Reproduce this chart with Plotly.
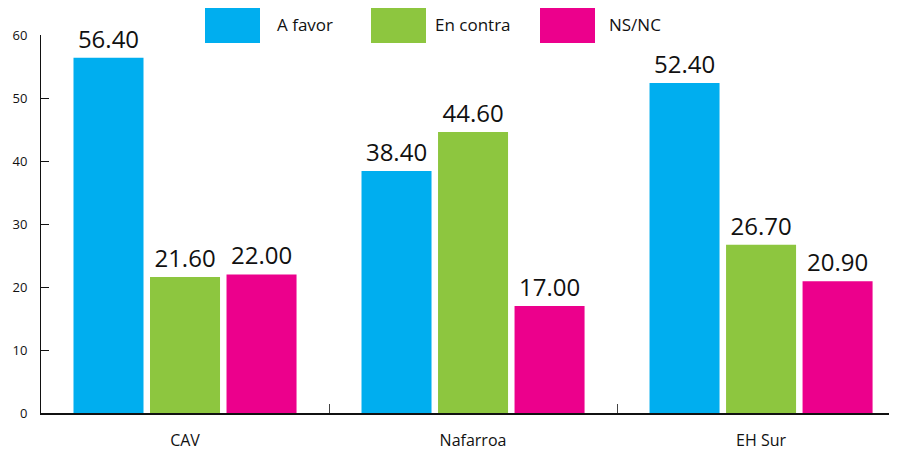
import plotly.graph_objects as go

regions = ['CAV', 'Nafarroa', 'EH Sur']
a_favor = [56.40, 38.40, 52.40]
en_contra = [21.60, 44.60, 26.70]
ns_nc = [22.00, 17.00, 20.90]

series = ['A favor', 'En contra', 'NS/NC']
colors = ['#00AEEF', '#8DC63F', '#EC008C']

FONT = 'Open Sans'

# the page body adds an 8px margin, so the figure is a bit smaller than the window
OFF = 8
W, H = 897 - OFF, 450 - OFF
L, R, T, B = 41 - OFF, 0, 35 - OFF, 37
pw, ph = W - L - R, H - T - B


# page pixel -> paper coords (used for the hand made legend)
def px_x(p):
    return (p - OFF - L) / pw


def px_y(p):
    return (H - B - (p - OFF)) / ph


fig = go.Figure()
for name, vals, col in zip(series, [a_favor, en_contra, ns_nc], colors):
    fig.add_trace(go.Bar(
        x=regions, y=vals, name=name,
        marker=dict(color=col, line=dict(width=0)),
        texttemplate='%{y:.2f}', textposition='outside',
        textfont=dict(family=FONT, size=24, color='#111'),
        cliponaxis=False,
        showlegend=False,
    ))

# legend: big swatches like the original
sw_left = [205, 371, 540]
txt_left = [275, 433, 607]
for name, col, s, t in zip(series, colors, sw_left, txt_left):
    fig.add_shape(type='rect', xref='paper', yref='paper',
                  x0=px_x(s), x1=px_x(s + 55), y0=px_y(43), y1=px_y(7),
                  fillcolor=col, line=dict(width=0), layer='above')
    fig.add_annotation(text=name, xref='paper', yref='paper',
                       x=px_x(t), y=px_y(25), xanchor='left', yanchor='middle',
                       showarrow=False, font=dict(family=FONT, size=17, color='#111'))

fig.update_layout(
    width=W, height=H,
    margin=dict(l=L, r=R, t=T, b=B, autoexpand=False),
    plot_bgcolor='white', paper_bgcolor='white',
    barmode='group', bargap=0.203, bargroupgap=0.085,
    font=dict(family=FONT, color='#111'),
)
fig.update_xaxes(
    range=[-0.5, 2.472], tickson='boundaries', automargin=False,
    ticks='inside', ticklen=9, tickcolor='#444', tickwidth=1,
    showline=True, linecolor='#111', linewidth=1.5,
    showgrid=False, ticklabelstandoff=12,
    tickfont=dict(family=FONT, size=16, color='#111'),
)
fig.update_yaxes(
    range=[0, 60], dtick=10, automargin=False,
    ticks='inside', ticklen=8, tickcolor='#111',
    showline=True, linecolor='#111', linewidth=1,
    showgrid=False, zeroline=False, ticklabelstandoff=10,
    tickfont=dict(family=FONT, size=13, color='#111'),
)

fig.write_html("out.html")
